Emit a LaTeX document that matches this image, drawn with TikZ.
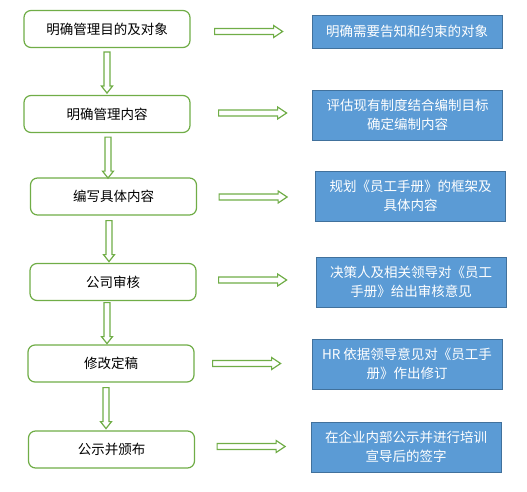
\documentclass[tikz,border=0pt]{standalone}
\usepackage{fontspec}
\setmainfont{Noto Sans CJK SC}
\usetikzlibrary{calc}
\definecolor{gline}{HTML}{70AD47}
\definecolor{bfill}{HTML}{5B9BD5}
\definecolor{bline}{HTML}{41719C}
\tikzset{
  lbox/.style={draw=gline, line width=1.2pt, fill=white, rounded corners=7pt, minimum width=166pt, minimum height=37pt, inner sep=0pt, font=\fontsize{13.5pt}{16pt}\selectfont, text=black},
  rbox/.style={draw=bline, line width=0.9pt, fill=bfill, minimum width=190pt, minimum height=50pt, inner sep=0pt, align=center, font=\fontsize{13.5pt}{19pt}\selectfont, text=white},
  harrow/.style={draw=gline, line width=1.2pt, fill=white, line join=miter},
}
\newcommand\hollowH[1]{\draw[harrow] (#1) ++(0,3) -- ++(59,0) -- ++(0,3) -- ++(9,-6) -- ++(-9,-6) -- ++(0,3) -- ++(-59,0) -- cycle;}
\newcommand\hollowV[1]{\draw[harrow] (#1) ++(-3,0) -- ++(0,34) -- ++(-2.5,0) -- ++(5.5,7) -- ++(5.5,-7) -- ++(-2.5,0) -- ++(0,-34) -- cycle;}
\begin{document}
\begin{tikzpicture}[x=1pt,y=-1pt]
\useasboundingbox (0,0) rectangle (527,492);
\node[lbox] (L1) at (107,29) {明确管理目的及对象};
\node[lbox] (L2) at (107,114) {明确管理内容};
\node[lbox] (L3) at (113.5,196.5) {编写具体内容};
\node[lbox] (L4) at (113,282) {公司审核};
\node[lbox] (L5) at (111,363.5) {修改定稿};
\node[lbox] (L6) at (111.5,449.5) {公示并颁布};
\node[rbox, minimum height=33pt] (R1) at (407,31.5) {明确需要告知和约束的对象};
\node[rbox] (R2) at (407.5,115) {评估现有制度结合编制目标\\确定编制内容};
\node[rbox] (R3) at (410.5,196) {规划《员工手册》的框架及\\具体内容};
\node[rbox] (R4) at (411,282) {决策人及相关领导对《员工\\手册》给出审核意见};
\node[rbox] (R5) at (407,364) {HR 依据领导意见对《员工手\\册》作出修订};
\node[rbox] (R6) at (406,447) {在企业内部公示并进行培训\\宣导后的签字};
% vertical connectors
\coordinate (v1) at ($(L1.south)+(0,4)$);
\coordinate (v2) at ($(L2.south)+(1,4)$);
\coordinate (v3) at ($(L3.south)+(-4.5,5)$);
\coordinate (v4) at ($(L4.south)+(-6,1.5)$);
\coordinate (v5) at ($(L5.south)+(-5,5)$);
\hollowV{v1}\hollowV{v2}\hollowV{v3}\hollowV{v4}\hollowV{v5}
% horizontal connectors
\coordinate (h1) at ($(L1.east |- R1.west)+(24,0)$);
\coordinate (h2) at ($(L2.east)+(28,-1)$);
\coordinate (h3) at ($(L3.east |- R3.west)+(22,1)$);
\coordinate (h4) at ($(L4.east)+(22,-2)$);
\coordinate (h5) at ($(L5.east)+(18,0)$);
\coordinate (h6) at ($(L6.east)+(22,-3)$);
\hollowH{h1}\hollowH{h2}\hollowH{h3}\hollowH{h4}\hollowH{h5}\hollowH{h6}
\end{tikzpicture}
\end{document}
